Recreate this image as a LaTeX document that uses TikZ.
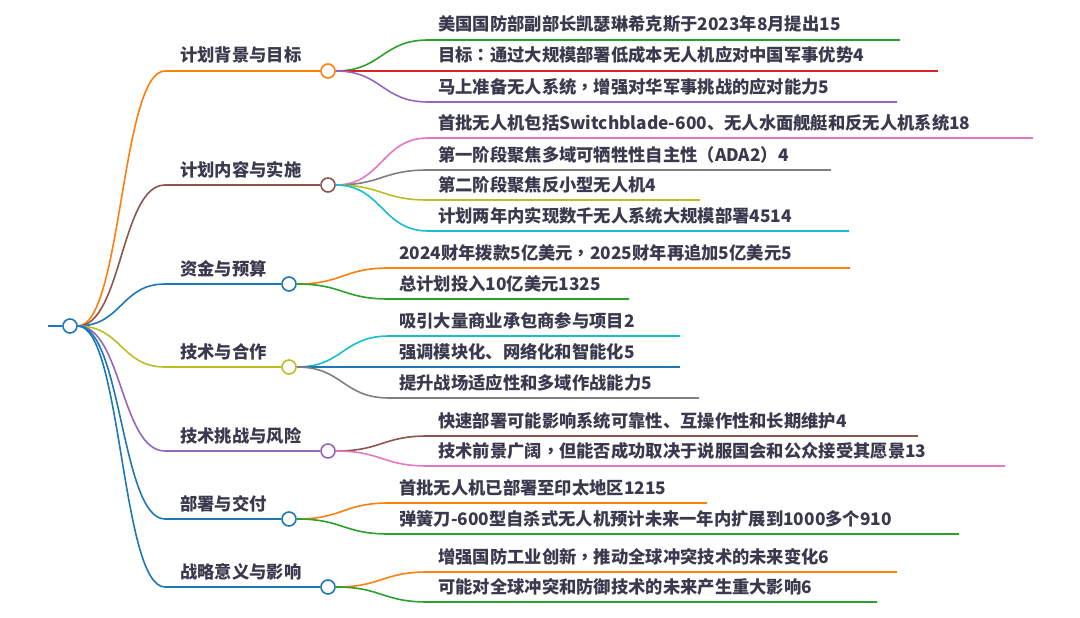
\documentclass[tikz,border=0pt]{standalone}
\usepackage{fontspec}
\setmainfont{Noto Sans CJK SC}
\newfontfamily\tcpunct{Noto Sans CJK TC}
\newcommand{\cm}{{\tcpunct\bfseries ，}}
\newcommand{\cl}{{\tcpunct\bfseries ：}}
\definecolor{mblue}{HTML}{1F77B4}
\definecolor{morange}{HTML}{FF7F0E}
\definecolor{mgreen}{HTML}{2CA02C}
\definecolor{mred}{HTML}{D62728}
\definecolor{mpurple}{HTML}{9467BD}
\definecolor{mbrown}{HTML}{8C564B}
\definecolor{mpink}{HTML}{E377C2}
\definecolor{mgrey}{HTML}{7F7F7F}
\definecolor{molive}{HTML}{BCBD22}
\definecolor{mcyan}{HTML}{17BECF}
\definecolor{tcol}{RGB}{58,58,78}
\begin{document}
\begin{tikzpicture}[x=1pt,y=-1pt,
  lk/.style={line width=1.6pt},
  dot/.style={circle,draw,fill=white,line width=1.6pt,minimum size=14pt,inner sep=0pt},
  lbl/.style={anchor=base west,inner sep=0pt,text=tcol,font=\fontsize{17.3}{20}\selectfont\bfseries}]
\useasboundingbox (0,0) rectangle (1080,618);

% ---------- coordinates ----------
\coordinate (r0) at (48,326);
\coordinate (b1) at (165,71);
\coordinate (b2) at (165,185);
\coordinate (b3) at (165,284);
\coordinate (b4) at (165,367);
\coordinate (b5) at (165,451);
\coordinate (b6) at (165,519);
\coordinate (b7) at (165,587);

% group 1
\coordinate (s11) at (428,40);  \coordinate (e11) at (900,40);
\coordinate (s12) at (428,71);  \coordinate (e12) at (938,71);
\coordinate (s13) at (428,102); \coordinate (e13) at (897,102);
% group 2
\coordinate (s21) at (428,138); \coordinate (e21) at (1033,138);
\coordinate (s22) at (428,170); \coordinate (e22) at (831,170);
\coordinate (s23) at (428,200); \coordinate (e23) at (700,200);
\coordinate (s24) at (428,231); \coordinate (e24) at (849,231);
% group 3
\coordinate (s31) at (389,268); \coordinate (e31) at (850,268);
\coordinate (s32) at (389,299); \coordinate (e32) at (629,299);
% group 4
\coordinate (s41) at (389,336); \coordinate (e41) at (680,336);
\coordinate (s42) at (389,367); \coordinate (e42) at (680,367);
\coordinate (s43) at (389,398); \coordinate (e43) at (699,398);
% group 5
\coordinate (s51) at (428,436); \coordinate (e51) at (918,436);
\coordinate (s52) at (428,466); \coordinate (e52) at (1005,466);
% group 6
\coordinate (s61) at (389,503); \coordinate (e61) at (707,503);
\coordinate (s62) at (389,534); \coordinate (e62) at (959,534);
% group 7
\coordinate (s71) at (428,572); \coordinate (e71) at (897,572);
\coordinate (s72) at (428,602); \coordinate (e72) at (877,602);

% ---------- circles ----------
\node[dot,draw=mblue] (root) at (70,326) {};
\node[dot,draw=morange] (c1) at (328,71) {};
\node[dot,draw=mbrown] (c2) at (328,185) {};
\node[dot,draw=mblue] (c3) at (289,284) {};
\node[dot,draw=molive] (c4) at (289,367) {};
\node[dot,draw=mpurple] (c5) at (328,451) {};
\node[dot,draw=mblue] (c6) at (289,519) {};
\node[dot,draw=mblue] (c7) at (328,587) {};

% ---------- connectors ----------
\draw[lk,mblue] (r0) -- (root.west);
\draw[lk,morange] (root.east) .. controls +(44,0) and +(-44,0) .. (b1) -- (c1.west);
\draw[lk,mbrown]  (root.east) .. controls +(44,0) and +(-44,0) .. (b2) -- (c2.west);
\draw[lk,mblue]   (root.east) .. controls +(44,0) and +(-44,0) .. (b3) -- (c3.west);
\draw[lk,molive]  (root.east) .. controls +(44,0) and +(-44,0) .. (b4) -- (c4.west);
\draw[lk,mpurple] (root.east) .. controls +(44,0) and +(-44,0) .. (b5) -- (c5.west);
\draw[lk,mblue]   (root.east) .. controls +(44,0) and +(-44,0) .. (b6) -- (c6.west);
\draw[lk,mblue]   (root.east) .. controls +(44,0) and +(-44,0) .. (b7) -- (c7.west);

\draw[lk,mgreen]  (c1.east) .. controls +(46,0) and +(-46,0) .. (s11) -- (e11);
\draw[lk,mred]    (c1.east) .. controls +(46,0) and +(-46,0) .. (s12) -- (e12);
\draw[lk,mpurple] (c1.east) .. controls +(46,0) and +(-46,0) .. (s13) -- (e13);

\draw[lk,mpink]  (c2.east) .. controls +(46,0) and +(-46,0) .. (s21) -- (e21);
\draw[lk,mgrey]  (c2.east) .. controls +(46,0) and +(-46,0) .. (s22) -- (e22);
\draw[lk,molive] (c2.east) .. controls +(46,0) and +(-46,0) .. (s23) -- (e23);
\draw[lk,mcyan]  (c2.east) .. controls +(46,0) and +(-46,0) .. (s24) -- (e24);

\draw[lk,morange] (c3.east) .. controls +(46,0) and +(-46,0) .. (s31) -- (e31);
\draw[lk,mgreen]  (c3.east) .. controls +(46,0) and +(-46,0) .. (s32) -- (e32);

\draw[lk,mcyan] (c4.east) .. controls +(46,0) and +(-46,0) .. (s41) -- (e41);
\draw[lk,mblue] (c4.east) .. controls +(46,0) and +(-46,0) .. (s42) -- (e42);
\draw[lk,mgrey] (c4.east) .. controls +(46,0) and +(-46,0) .. (s43) -- (e43);

\draw[lk,mbrown] (c5.east) .. controls +(46,0) and +(-46,0) .. (s51) -- (e51);
\draw[lk,mpink]  (c5.east) .. controls +(46,0) and +(-46,0) .. (s52) -- (e52);

\draw[lk,morange] (c6.east) .. controls +(46,0) and +(-46,0) .. (s61) -- (e61);
\draw[lk,mgreen]  (c6.east) .. controls +(46,0) and +(-46,0) .. (s62) -- (e62);

\draw[lk,morange] (c7.east) .. controls +(46,0) and +(-46,0) .. (s71) -- (e71);
\draw[lk,mgreen]  (c7.east) .. controls +(46,0) and +(-46,0) .. (s72) -- (e72);

% ---------- labels ----------
\node[lbl] (t1) at (180,62)  {计划背景与目标};
\node[lbl] (t2) at (180,176) {计划内容与实施};
\node[lbl] (t3) at (180,275) {资金与预算};
\node[lbl] (t4) at (180,358) {技术与合作};
\node[lbl] (t5) at (180,442) {技术挑战与风险};
\node[lbl] (t6) at (180,510) {部署与交付};
\node[lbl] (t7) at (180,578) {战略意义与影响};

\node[lbl] (l11) at (438,31)  {美国国防部副部长凯瑟琳希克斯于2023年8月提出15};
\node[lbl] (l12) at (438,62)  {目标\cl 通过大规模部署低成本无人机应对中国军事优势4};
\node[lbl] (l13) at (438,93)  {马上准备无人系统\cm 增强对华军事挑战的应对能力5};

\node[lbl] (l21) at (438,129) {首批无人机包括Switchblade-600、无人水面舰艇和反无人机系统18};
\node[lbl] (l22) at (438,161) {第一阶段聚焦多域可牺牲性自主性（ADA2）4};
\node[lbl] (l23) at (438,191) {第二阶段聚焦反小型无人机4};
\node[lbl] (l24) at (438,222) {计划两年内实现数千无人系统大规模部署4514};

\node[lbl] (l31) at (399,259) {2024财年拨款5亿美元\cm 2025财年再追加5亿美元5};
\node[lbl] (l32) at (399,290) {总计划投入10亿美元1325};

\node[lbl] (l41) at (399,327) {吸引大量商业承包商参与项目2};
\node[lbl] (l42) at (399,358) {强调模块化、网络化和智能化5};
\node[lbl] (l43) at (399,389) {提升战场适应性和多域作战能力5};

\node[lbl] (l51) at (438,427) {快速部署可能影响系统可靠性、互操作性和长期维护4};
\node[lbl] (l52) at (438,457) {技术前景广阔\cm 但能否成功取决于说服国会和公众接受其愿景13};

\node[lbl] (l61) at (399,494) {首批无人机已部署至印太地区1215};
\node[lbl] (l62) at (399,525) {弹簧刀-600型自杀式无人机预计未来一年内扩展到1000多个910};

\node[lbl] (l71) at (438,563) {增强国防工业创新\cm 推动全球冲突技术的未来变化6};
\node[lbl] (l72) at (438,593) {可能对全球冲突和防御技术的未来产生重大影响6};
\end{tikzpicture}
\end{document}
